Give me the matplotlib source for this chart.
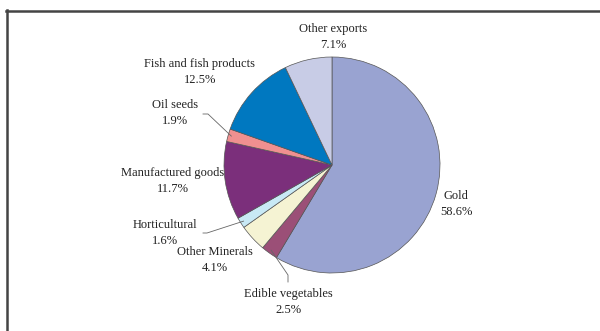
import numpy as np
import matplotlib
matplotlib.use("Agg")
from matplotlib import pyplot as plt
from matplotlib.lines import Line2D

# data (clockwise from 12 o'clock)
categories = ["Gold", "Edible vegetables", "Other Minerals", "Horticultural",
              "Manufactured goods", "Oil seeds", "Fish and fish products", "Other exports"]
shares = [58.6, 2.5, 4.1, 1.6, 11.7, 1.9, 12.5, 7.1]
colors = ["#99a3d1", "#9b4f77", "#f5f3d3", "#c8e9f5",
          "#7b2f7b", "#f09090", "#0078c0", "#c8cce6"]

W, H = 600, 331
cx, cy, r = 332, 165, 108   # pixel coords, y down

def Y(y):
    return H - y

plt.rcParams['font.family'] = ['Liberation Serif', 'DejaVu Serif']

fig = plt.figure(figsize=(6, 3.31), dpi=100)
ax = fig.add_axes([0, 0, 1, 1])
wedges, _ = ax.pie(shares, colors=colors, startangle=90, counterclock=False,
                   center=(cx, Y(cy)), radius=r,
                   wedgeprops=dict(edgecolor="#555555", linewidth=0.5))
ax.set_xlim(0, W)
ax.set_ylim(0, H)
ax.set_aspect('equal')
ax.axis('off')

# label centres in pixels
label_pos = {
    "Gold": (456, 204),
    "Edible vegetables": (288, 302),
    "Other Minerals": (215, 260),
    "Horticultural": (165, 233),
    "Manufactured goods": (173, 181),
    "Oil seeds": (175, 113),
    "Fish and fish products": (200, 72),
    "Other exports": (333, 37),
}
for name, val in zip(categories, shares):
    x, y = label_pos[name]
    ax.text(x, Y(y), "%s\n%.1f%%" % (name, val), ha="center", va="center",
            fontsize=9, linespacing=1.5, color="#222222")

# leader lines for the thin slices
def wedge_point(name, k=0.97):
    w = wedges[categories.index(name)]
    a = np.deg2rad((w.theta1 + w.theta2) / 2)
    return cx + k * r * np.cos(a), cy - k * r * np.sin(a)

lc = "#666666"
px, py = wedge_point("Oil seeds")
ax.plot([203, 208, px], [Y(114), Y(114), Y(py)], color=lc, lw=0.6)
px, py = wedge_point("Horticultural")
ax.plot([203, 207, px], [Y(233), Y(233), Y(py)], color=lc, lw=0.6)
px, py = wedge_point("Edible vegetables")
ax.plot([px, 288, 288], [Y(py), Y(275), Y(282)], color=lc, lw=0.6)

# partial frame (top and left edges)
fc = "#444444"
fig.add_artist(Line2D([6 / W, 1], [1 - 10.5 / H, 1 - 10.5 / H], color=fc, lw=1.8,
                      transform=fig.transFigure))
fig.add_artist(Line2D([6.5 / W, 6.5 / W], [1 - 10 / H, 0], color=fc, lw=1.8,
                      transform=fig.transFigure))

fig.savefig("out.png", dpi=100)
